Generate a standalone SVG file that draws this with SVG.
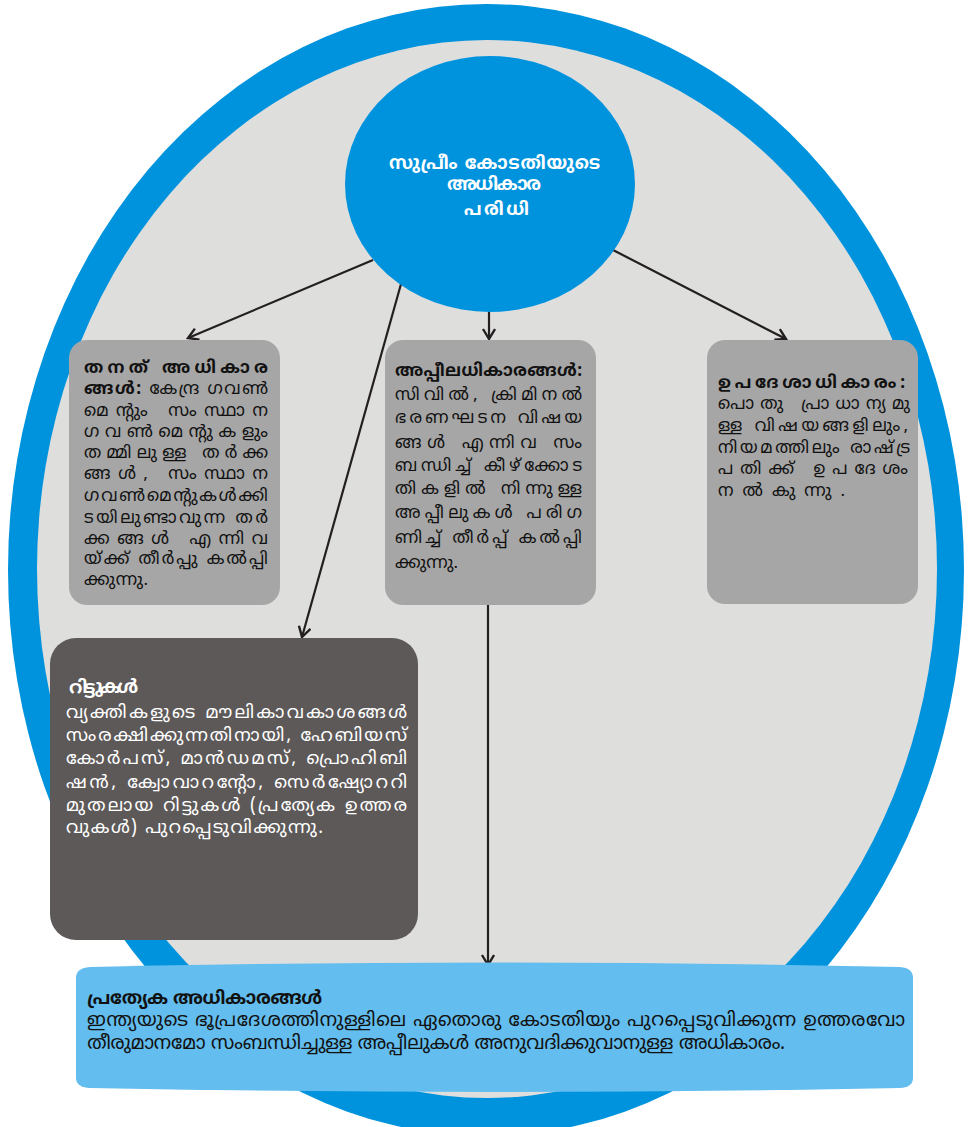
<svg xmlns="http://www.w3.org/2000/svg" width="969" height="1127" viewBox="0 0 969 1127">
<defs>
<marker id="arr" markerUnits="userSpaceOnUse" markerWidth="16" markerHeight="16" refX="12" refY="7" orient="auto">
<path d="M2,1 L12,7 L2,13" fill="none" stroke="#231f20" stroke-width="2.4"/>
</marker>
<style>
.t{font-family:'Noto Sans Malayalam','Noto Sans','DejaVu Sans',sans-serif;font-size:17px;fill:#111}
.w{fill:#fff}
.b{font-weight:bold}
.c{stroke:#231f20;stroke-width:2.2;fill:none;marker-end:url(#arr)}
</style>
</defs>
<rect width="969" height="1127" fill="#fff"/>
<g id="background">
<ellipse cx="486" cy="570" rx="478" ry="566" fill="#0093dd"/>
<ellipse cx="487" cy="569" rx="450" ry="529" fill="#dededd"/>
</g>
<g id="connectors">
<line class="c" x1="373" y1="260" x2="188" y2="338"/>
<line class="c" x1="401" y1="284" x2="302" y2="637"/>
<line class="c" x1="489" y1="312" x2="489" y2="339"/>
<line class="c" x1="613" y1="250" x2="786" y2="339"/>
<line class="c" x1="488" y1="605" x2="488" y2="965"/>
</g>
<g id="center">
<ellipse cx="490" cy="184" rx="145" ry="128" fill="#0093dd"/>
<g class="t w b" style="font-size:18px" text-anchor="middle">
<text x="494.5" y="169" textLength="211" lengthAdjust="spacing">സുപ്രീം കോടതിയുടെ</text>
<text x="494" y="190" textLength="94" lengthAdjust="spacing">അധികാര</text>
<text x="496.5" y="215" textLength="65" lengthAdjust="spacing">പരിധി</text>
</g>
</g>
<g id="original">
<rect x="69" y="340" width="211" height="265" rx="18" fill="#a6a6a6"/>
<g class="t">
<text x="84" y="373" class="b" textLength="184" lengthAdjust="spacing">തനത് അധികാര</text>
<text x="84" y="394" textLength="184" lengthAdjust="spacing"><tspan class="b">ങ്ങൾ:</tspan> കേന്ദ്ര ഗവൺ</text>
<text x="84" y="416" textLength="184" lengthAdjust="spacing">മെന്റും സംസ്ഥാന</text>
<text x="84" y="437" textLength="184" lengthAdjust="spacing">ഗവൺമെന്റുകളും</text>
<text x="84" y="458" textLength="184" lengthAdjust="spacing">തമ്മിലുള്ള തർക്ക</text>
<text x="84" y="479" textLength="184" lengthAdjust="spacing">ങ്ങൾ, സംസ്ഥാന</text>
<text x="84" y="501" textLength="184" lengthAdjust="spacing">ഗവൺമെന്റുകൾക്കി</text>
<text x="84" y="523" textLength="184" lengthAdjust="spacing">ടയിലുണ്ടാവുന്ന തർ</text>
<text x="84" y="544" textLength="184" lengthAdjust="spacing">ക്കങ്ങൾ എന്നിവ</text>
<text x="84" y="564" textLength="184" lengthAdjust="spacing">യ്ക്ക് തീർപ്പു കൽപ്പി</text>
<text x="84" y="585" textLength="64" lengthAdjust="spacing">ക്കുന്നു.</text>
</g>
</g>
<g id="appellate">
<rect x="385" y="340" width="211" height="265" rx="18" fill="#a6a6a6"/>
<g class="t">
<text x="395" y="376" class="b" textLength="187" lengthAdjust="spacing">അപ്പീലധികാരങ്ങൾ:</text>
<text x="395" y="400" textLength="187" lengthAdjust="spacing">സിവിൽ, ക്രിമിനൽ</text>
<text x="395" y="423" textLength="187" lengthAdjust="spacing">ഭരണഘടന വിഷയ</text>
<text x="395" y="448" textLength="187" lengthAdjust="spacing">ങ്ങൾ എന്നിവ സം</text>
<text x="395" y="471" textLength="187" lengthAdjust="spacing">ബന്ധിച്ച് കീഴ്ക്കോട</text>
<text x="395" y="494" textLength="187" lengthAdjust="spacing">തികളിൽ നിന്നുള്ള</text>
<text x="395" y="518" textLength="187" lengthAdjust="spacing">അപ്പീലുകൾ പരിഗ</text>
<text x="395" y="543" textLength="187" lengthAdjust="spacing">ണിച്ച് തീർപ്പ് കൽപ്പി</text>
<text x="395" y="568" textLength="63" lengthAdjust="spacing">ക്കുന്നു.</text>
</g>
</g>
<g id="advisory">
<rect x="707" y="340" width="211" height="264" rx="18" fill="#a6a6a6"/>
<g class="t">
<text x="718" y="388" class="b" textLength="187" lengthAdjust="spacing">ഉപദേശാധികാരം:</text>
<text x="718" y="409" textLength="192" lengthAdjust="spacing">പൊതു പ്രാധാന്യമു</text>
<text x="718" y="431" textLength="190" lengthAdjust="spacing">ള്ള വിഷയങ്ങളിലും,</text>
<text x="718" y="453" textLength="192" lengthAdjust="spacing">നിയമത്തിലും രാഷ്ട്ര</text>
<text x="718" y="474" textLength="190" lengthAdjust="spacing">പതിക്ക് ഉപദേശം</text>
<text x="718" y="496" textLength="127" lengthAdjust="spacing">നൽകുന്നു.</text>
</g>
</g>
<g id="writs">
<rect x="50" y="638" width="368" height="302" rx="26" fill="#5d5959"/>
<g class="t w" style="font-size:18px">
<text x="66" y="693" class="b" textLength="69" lengthAdjust="spacing">റിട്ടുകൾ</text>
<text x="66" y="718" textLength="341" lengthAdjust="spacing">വ്യക്തികളുടെ മൗലികാവകാശങ്ങൾ</text>
<text x="66" y="741" textLength="341" lengthAdjust="spacing">സംരക്ഷിക്കുന്നതിനായി, ഹേബിയസ്</text>
<text x="66" y="764" textLength="341" lengthAdjust="spacing">കോർപസ്, മാൻഡമസ്, പ്രൊഹിബി</text>
<text x="66" y="788" textLength="341" lengthAdjust="spacing">ഷൻ, ക്വോവാറന്റോ, സെർഷ്യോററി</text>
<text x="66" y="811" textLength="341" lengthAdjust="spacing">മുതലായ റിട്ടുകൾ (പ്രത്യേക ഉത്തര</text>
<text x="66" y="833" textLength="257" lengthAdjust="spacing">വുകൾ) പുറപ്പെടുവിക്കുന്നു.</text>
</g>
</g>
<g id="special">
<path d="M76,978 Q76,968 90,967 Q494,958 900,967 Q913,968 913,978 L913,1078 Q913,1087 900,1088 Q494,1096 90,1088 Q76,1087 76,1078 Z" fill="#63bdee"/>
<g class="t" style="font-size:19px">
<text x="87" y="1004" class="b" style="font-size:18px" textLength="235" lengthAdjust="spacing">പ്രത്യേക അധികാരങ്ങൾ</text>
<text x="87" y="1026" textLength="818" lengthAdjust="spacing">ഇന്ത്യയുടെ ഭൂപ്രദേശത്തിനുള്ളിലെ ഏതൊരു കോടതിയും പുറപ്പെടുവിക്കുന്ന ഉത്തരവോ</text>
<text x="87" y="1049" textLength="698" lengthAdjust="spacing">തീരുമാനമോ സംബന്ധിച്ചുള്ള അപ്പീലുകൾ അനുവദിക്കുവാനുള്ള അധികാരം.</text>
</g>
</g>
</svg>
